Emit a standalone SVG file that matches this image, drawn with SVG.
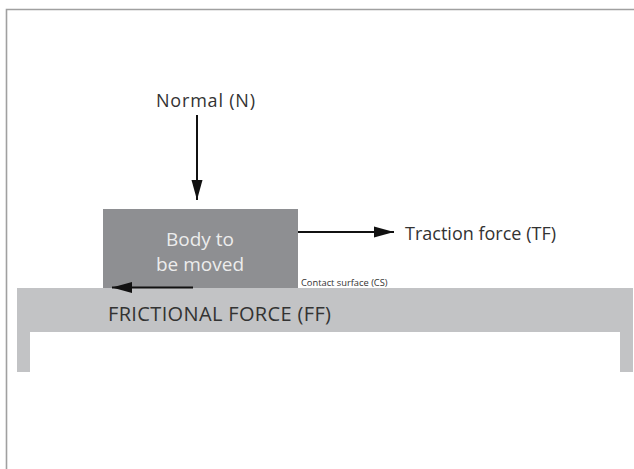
<svg xmlns="http://www.w3.org/2000/svg" width="634" height="469" viewBox="0 0 634 469">
<style>
.t{font-family:"Open Sans","Liberation Sans",sans-serif;font-size:18px;fill:#333}
.w{fill:#ececec;font-size:19px}
.a{stroke:#111;stroke-width:2;fill:none}
</style>
<defs>
<marker id="ah2" viewBox="0 0 20 12" refX="20" refY="6" markerWidth="20" markerHeight="12" markerUnits="userSpaceOnUse" orient="auto">
<path d="M0,0.5L20,6L0,11.5z" fill="#111"/>
</marker>
</defs>
<rect x="0" y="0" width="634" height="469" fill="#fff"/>
<path d="M6.5,480V9.5H640" fill="none" stroke="#a0a0a0" stroke-width="1.6"/>
<g id="ground">
<path d="M17,288H633V372H620V332H30V372H17Z" fill="#c2c3c5"/>
<text class="t" x="108" y="321" style="font-size:20px" textLength="223">FRICTIONAL FORCE (FF)</text>
</g>
<g id="body">
<rect x="103" y="209" width="195" height="79" fill="#8e8f92"/>
<text class="t w" x="200" y="246" text-anchor="middle">Body to</text>
<text class="t w" x="200" y="271" text-anchor="middle">be moved</text>
</g>
<g id="labels">
<text class="t" x="205.5" y="107" text-anchor="middle" textLength="99">Normal (N)</text>
<text class="t" x="405" y="240" textLength="151">Traction force (TF)</text>
<text class="t" x="301" y="286" style="font-size:9.3px">Contact surface (CS)</text>
</g>
<g id="connectors">
<line class="a" x1="197" y1="115" x2="197" y2="200" marker-end="url(#ah2)"/>
<line class="a" x1="298" y1="232" x2="394" y2="232" marker-end="url(#ah2)"/>
<line class="a" x1="193" y1="287.5" x2="112" y2="287.5" marker-end="url(#ah2)"/>
</g>
</svg>
